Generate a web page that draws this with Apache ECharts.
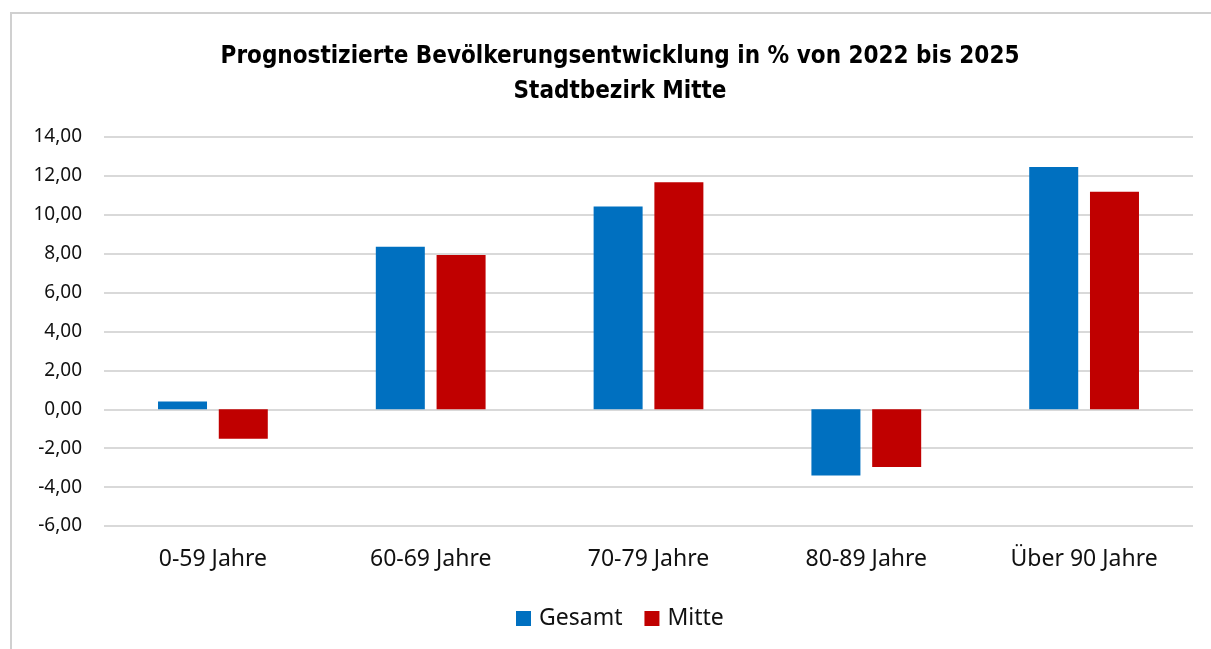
<!DOCTYPE html>
<html>
<head>
<meta charset="utf-8">
<script src="https://cdn.jsdelivr.net/npm/echarts@6/dist/echarts.min.js"></script>
<style>
  html, body { margin: 0; padding: 0; background: #fff; }
  .frame {
    position: absolute; left: 10px; top: 12px;
    width: 1300px; height: 700px;
    border: 2px solid #d0d0d0;
    box-sizing: border-box;
  }
  #chart { position: absolute; left: 0; top: 0; width: 1211px; height: 649px; }
</style>
</head>
<body>
<div class="frame"></div>
<div id="chart"></div>
<script>
  const categories = ['0-59 Jahre', '60-69 Jahre', '70-79 Jahre', '80-89 Jahre', 'Über 90 Jahre']
  const gesamt = [0.40, 8.36, 10.43, -3.40, 12.46]
  const mitte = [-1.52, 7.93, 11.67, -2.97, 11.19]
  const titleLines = ['Prognostizierte Bevölkerungsentwicklung in % von 2022 bis 2025', 'Stadtbezirk Mitte']

  const titleFont = "'DejaVu Sans Condensed', 'Liberation Sans Narrow', sans-serif"
  const font = "'Noto Sans', 'Open Sans', sans-serif"
  const chart = echarts.init(document.getElementById('chart'))
  chart.setOption({
    animation: false,
    color: ['#0070c0', '#c00000'],
    textStyle: { fontFamily: font },
    title: {
      text: titleLines.join('\n'),
      left: 615,
      textAlign: 'center',
      top: 34,
      textStyle: {
        fontFamily: titleFont,
        fontWeight: 'bold',
        fontSize: 24,
        lineHeight: 35,
        color: '#000'
      }
    },
    legend: {
      bottom: 14,
      left: 511,
      itemWidth: 15,
      itemHeight: 15,
      itemGap: 22,
      icon: 'rect',
      textStyle: { fontFamily: font, fontSize: 23, color: '#111', padding: [0, 0, 0, 3] },
      data: ['Gesamt', 'Mitte']
    },
    grid: { left: 104, right: 18, top: 137, bottom: 123 },
    xAxis: {
      type: 'category',
      data: categories,
      axisLine: { show: false, onZero: false },
      axisTick: { show: false },
      axisLabel: {
        color: '#111',
        fontSize: 23,
        fontFamily: font,
        interval: 0,
        margin: 22
      }
    },
    yAxis: {
      type: 'value',
      min: -6,
      max: 14,
      interval: 2,
      axisLine: { show: false },
      axisTick: { show: false },
      axisLabel: {
        color: '#111',
        fontSize: 19,
        fontFamily: font,
        margin: 22,
        formatter: v => v.toFixed(2).replace('.', ',')
      },
      splitLine: { lineStyle: { color: '#d9d9d9', width: 2 } }
    },
    series: [
      {
        name: 'Gesamt',
        type: 'bar',
        data: gesamt,
        barWidth: '22.5%',
        barGap: '24%'
      },
      {
        name: 'Mitte',
        type: 'bar',
        data: mitte,
        barWidth: '22.5%',
        barGap: '24%'
      }
    ]
  })
</script>
</body>
</html>
